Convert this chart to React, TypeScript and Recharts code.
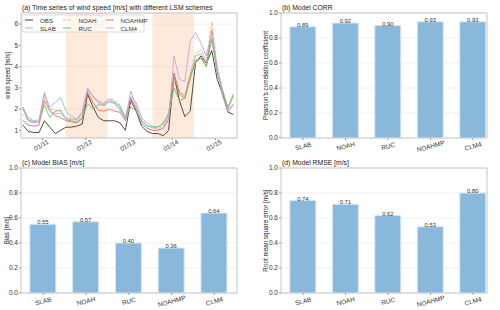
import React from 'react'
import { LineChart, Line, BarChart, Bar, XAxis, YAxis, CartesianGrid, ReferenceArea, LabelList } from 'recharts'

const FONT = '"Liberation Sans", Arial, Helvetica, sans-serif'

// hours since 01/10 12:00
const hours = [1, 4, 7, 10, 13, 16, 19, 22, 25, 28, 31, 34, 37, 40, 43, 46, 49, 52, 55, 58, 61, 64, 67, 70, 73, 76, 79, 82, 85, 88, 91, 94, 97, 100, 103, 106, 109, 112, 115, 118]
const obs = [1.25, 0.95, 0.9, 0.9, 1.45, 1.15, 0.85, 1.0, 1.15, 1.15, 1.2, 1.3, 2.7, 2.1, 1.6, 1.45, 1.45, 1.45, 1.35, 1.0, 2.4, 1.9, 1.2, 0.95, 0.85, 0.85, 0.75, 1.0, 3.6, 2.4, 1.65, 1.9, 4.2, 4.5, 4.15, 4.75, 3.4, 2.7, 1.85, 1.75]
const slab = [2.05, 1.6, 1.45, 1.5, 2.7, 2.1, 2.3, 2.55, 1.9, 1.65, 1.55, 1.75, 2.9, 2.6, 2.35, 2.25, 2.45, 2.35, 2.15, 1.65, 2.6, 2.3, 1.6, 1.35, 1.2, 1.15, 1.3, 1.8, 3.6, 2.8, 2.6, 3.6, 4.5, 4.6, 4.2, 5.3, 3.8, 2.9, 2.0, 2.6]
const noah = [1.75, 1.45, 1.4, 1.45, 2.6, 2.0, 1.95, 1.9, 1.6, 1.55, 1.5, 1.7, 2.95, 2.55, 2.4, 2.3, 2.5, 2.4, 2.2, 1.6, 2.5, 2.2, 1.5, 1.25, 1.1, 1.05, 1.2, 1.7, 3.6, 2.9, 2.6, 3.7, 4.6, 4.8, 4.3, 6.1, 4.0, 2.9, 2.0, 2.7]
const noahmp = [1.48, 1.25, 1.2, 1.25, 2.4, 1.9, 1.7, 1.6, 1.45, 1.4, 1.35, 1.55, 2.8, 2.3, 1.95, 1.9, 2.0, 1.9, 1.85, 1.45, 2.5, 2.0, 1.35, 1.1, 1.0, 1.0, 1.1, 1.5, 3.7, 2.7, 2.5, 3.5, 4.2, 4.4, 4.0, 5.7, 3.8, 2.8, 1.9, 2.2]
const ruc = [2.1, 1.5, 1.4, 1.4, 2.2, 1.6, 1.9, 1.95, 1.5, 1.45, 1.4, 1.6, 2.25, 2.0, 2.2, 2.2, 2.35, 2.3, 2.05, 1.55, 2.1, 1.9, 1.45, 1.2, 1.15, 1.15, 1.35, 1.75, 3.0, 2.4, 2.5, 3.4, 4.3, 4.4, 4.0, 5.3, 3.7, 2.8, 2.1, 2.7]
const clm4 = [2.0, 1.45, 1.35, 1.4, 2.8, 1.9, 1.8, 1.8, 1.55, 1.5, 1.5, 1.9, 3.0, 2.6, 2.3, 2.15, 2.35, 2.25, 1.95, 1.45, 2.85, 2.1, 1.35, 1.1, 1.0, 1.0, 1.1, 1.6, 4.5, 3.4, 3.3, 5.2, 5.6, 5.1, 4.5, 5.6, 3.9, 2.6, 1.9, 2.25]

const dayTicks = [12, 36, 60, 84, 108]
const dayLabels = ['01/11', '01/12', '01/13', '01/14', '01/15']
const shadeStart = [25, 73]
const shadeEnd = [48, 96]
const windTicks = [1, 2, 3, 4, 5, 6]

const schemes = ['SLAB', 'NOAH', 'RUC', 'NOAHMP', 'CLM4']
const corr = [0.89, 0.92, 0.9, 0.93, 0.93]
const bias = [0.55, 0.57, 0.4, 0.36, 0.64]
const rmse = [0.74, 0.71, 0.62, 0.53, 0.8]
const barTicks = [0, 0.2, 0.4, 0.6, 0.8, 1.0]

const lineStyles = [
  { key: 'OBS', values: obs, color: '#383838', dash: undefined },
  { key: 'SLAB', values: slab, color: '#8dbde0', dash: undefined },
  { key: 'NOAH', values: noah, color: '#f6ad72', dash: '3 1.5' },
  { key: 'NOAHMP', values: noahmp, color: '#ec6a62', dash: undefined },
  { key: 'RUC', values: ruc, color: '#72c172', dash: undefined },
  { key: 'CLM4', values: clm4, color: '#bba6e0', dash: undefined },
]
const legendOrder = ['OBS', 'SLAB', 'NOAH', 'RUC', 'NOAHMP', 'CLM4']

const windRows = hours.map((h, i) => {
  const row: Record<string, number> = { h }
  lineStyles.forEach(s => { row[s.key] = s.values[i] })
  return row
})

const tickStyle = { fontSize: 6.5, fill: '#333', fontFamily: FONT }
const frameColor = '#c6c6c6'
const gridColor = '#ececec'

const DayTick = (props: any) => {
  const { x, y, payload } = props
  const label = dayLabels[dayTicks.indexOf(payload.value)]
  return (
    <text x={0} y={0} transform={`translate(${x - 1.5},${y + 4}) rotate(-30)`} textAnchor="middle"
      dominantBaseline="central" style={tickStyle}>{label}</text>
  )
}

const SchemeTick = (props: any) => {
  const { x, y, payload } = props
  return (
    <text x={0} y={0} transform={`translate(${x},${y + 5}) rotate(-15)`} textAnchor="middle"
      dominantBaseline="central" style={tickStyle}>{schemes[payload.value]}</text>
  )
}

function WindPanel() {
  return (
    <LineChart width={245} height={155} data={windRows} margin={{ top: 13, right: 8, left: 0, bottom: 0 }}>
      <CartesianGrid vertical={false} stroke={gridColor} strokeWidth={0.8} />
      {shadeStart.map((s, i) => (
        <ReferenceArea key={s} x1={s} x2={shadeEnd[i]} fill="#f7a15a" fillOpacity={0.22} stroke="none" />
      ))}
      <XAxis type="number" dataKey="h" domain={[0, 120]} ticks={dayTicks} tick={<DayTick />} interval={0}
        tickSize={2} tickMargin={1} tickLine={{ stroke: '#999' }} axisLine={false} height={17} allowDataOverflow />
      <YAxis type="number" domain={[0.64, 6.52]} ticks={windTicks} width={21} tick={tickStyle}
        tickSize={2} tickMargin={1} tickLine={{ stroke: '#999' }} axisLine={false} allowDataOverflow />
      {lineStyles.map(s => (
        <Line key={s.key} dataKey={s.key} stroke={s.color} strokeWidth={0.9} strokeDasharray={s.dash}
          dot={false} isAnimationActive={false} />
      ))}
      <ReferenceArea x1={0} x2={120} y1={0.64} y2={6.52} fill="none" stroke={frameColor} strokeWidth={1} />
    </LineChart>
  )
}

function MetricPanel({ values, width, right, yWidth, xMax }: { values: number[]; width: number; right: number; yWidth: number; xMax: number }) {
  const rows = schemes.map((name, i) => ({ idx: i, name, value: values[i] }))
  const xMin = -0.52
  return (
    <BarChart width={width} height={155} data={rows} margin={{ top: 13, right, left: 0, bottom: 0 }}>
      <CartesianGrid vertical={false} stroke={gridColor} strokeWidth={0.8} />
      <XAxis type="number" dataKey="idx" domain={[xMin, xMax]} ticks={[0, 1, 2, 3, 4]} tick={<SchemeTick />}
        interval={0} tickSize={2} tickMargin={1} tickLine={{ stroke: '#999' }} axisLine={false} height={17} allowDataOverflow />
      <YAxis type="number" domain={[0, 1]} ticks={barTicks} tickFormatter={(v: number) => v.toFixed(1)}
        width={yWidth} tick={tickStyle} tickSize={2} tickMargin={1} tickLine={{ stroke: '#999' }} axisLine={false} allowDataOverflow />
      <Bar dataKey="value" fill="#8ab8da" stroke="#d6e7f4" strokeWidth={1} barSize={26} isAnimationActive={false}>
        <LabelList dataKey="value" position="top" offset={0} formatter={(v: any) => Number(v).toFixed(2)}
          style={{ fontSize: 5.8, fill: '#333', fontFamily: FONT }} />
      </Bar>
      <ReferenceArea x1={xMin} x2={xMax} y1={0} y2={1} fill="none" stroke={frameColor} strokeWidth={1} />
    </BarChart>
  )
}

function Legend() {
  const cols = [[25, 40], [63, 78.5], [106, 120.5]]
  return (
    <g>
      <rect x={22} y={15} width={122} height={17} rx={1.5} fill="#fff" fillOpacity={0.6} stroke="#d2d2d2" strokeWidth={0.8} />
      {legendOrder.map((k, i) => {
        const s = lineStyles.find(l => l.key === k)!
        const [lx, tx] = cols[Math.floor(i / 2)]
        const y = i % 2 === 0 ? 20 : 28
        return (
          <g key={k}>
            <line x1={lx} x2={lx + 8} y1={y} y2={y} stroke={s.color} strokeWidth={1} strokeDasharray={s.dash} />
            <text x={tx} y={y} dominantBaseline="central" style={{ ...tickStyle, fontSize: 6.2 }}>{k}</text>
          </g>
        )
      })}
    </g>
  )
}

const titleStyle = { fontSize: 6.8, fill: '#222', fontFamily: FONT }
const ylabelStyle = { fontSize: 6.3, fill: '#222', fontFamily: FONT }

export default function App() {
  return (
    <div style={{ position: 'absolute', left: 0, top: 0, width: 500, height: 310, background: '#fff', fontFamily: FONT }}>
      <div style={{ position: 'absolute', left: 0, top: 0 }}><WindPanel /></div>
      <div style={{ position: 'absolute', left: 250, top: 0 }}>
        <MetricPanel values={corr} width={250} right={13} yWidth={31} xMax={4.33} />
      </div>
      <div style={{ position: 'absolute', left: 0, top: 155 }}>
        <MetricPanel values={bias} width={245} right={8} yWidth={21} xMax={4.53} />
      </div>
      <div style={{ position: 'absolute', left: 250, top: 155 }}>
        <MetricPanel values={rmse} width={250} right={13} yWidth={31} xMax={4.33} />
      </div>
      <svg width={500} height={310} style={{ position: 'absolute', left: 0, top: 0, pointerEvents: 'none' }}>
        <text x={22} y={9.5} style={titleStyle}>(a) Time series of wind speed [m/s] with different LSM schemes</text>
        <text x={282} y={9.5} style={titleStyle}>(b) Model CORR</text>
        <text x={22} y={164.5} style={titleStyle}>(c) Model BIAS [m/s]</text>
        <text x={282} y={164.5} style={titleStyle}>(d) Model RMSE [m/s]</text>
        <text transform="translate(9.5,75.5) rotate(-90)" textAnchor="middle" style={ylabelStyle}>wind speed [m/s]</text>
        <text transform="translate(268,75.5) rotate(-90)" textAnchor="middle" style={ylabelStyle}>Pearson's correlation coefficient</text>
        <text transform="translate(8.5,230.5) rotate(-90)" textAnchor="middle" style={ylabelStyle}>Bias [m/s]</text>
        <text transform="translate(268,230.5) rotate(-90)" textAnchor="middle" style={ylabelStyle}>Root mean square error [m/s]</text>
        <Legend />
      </svg>
    </div>
  )
}
